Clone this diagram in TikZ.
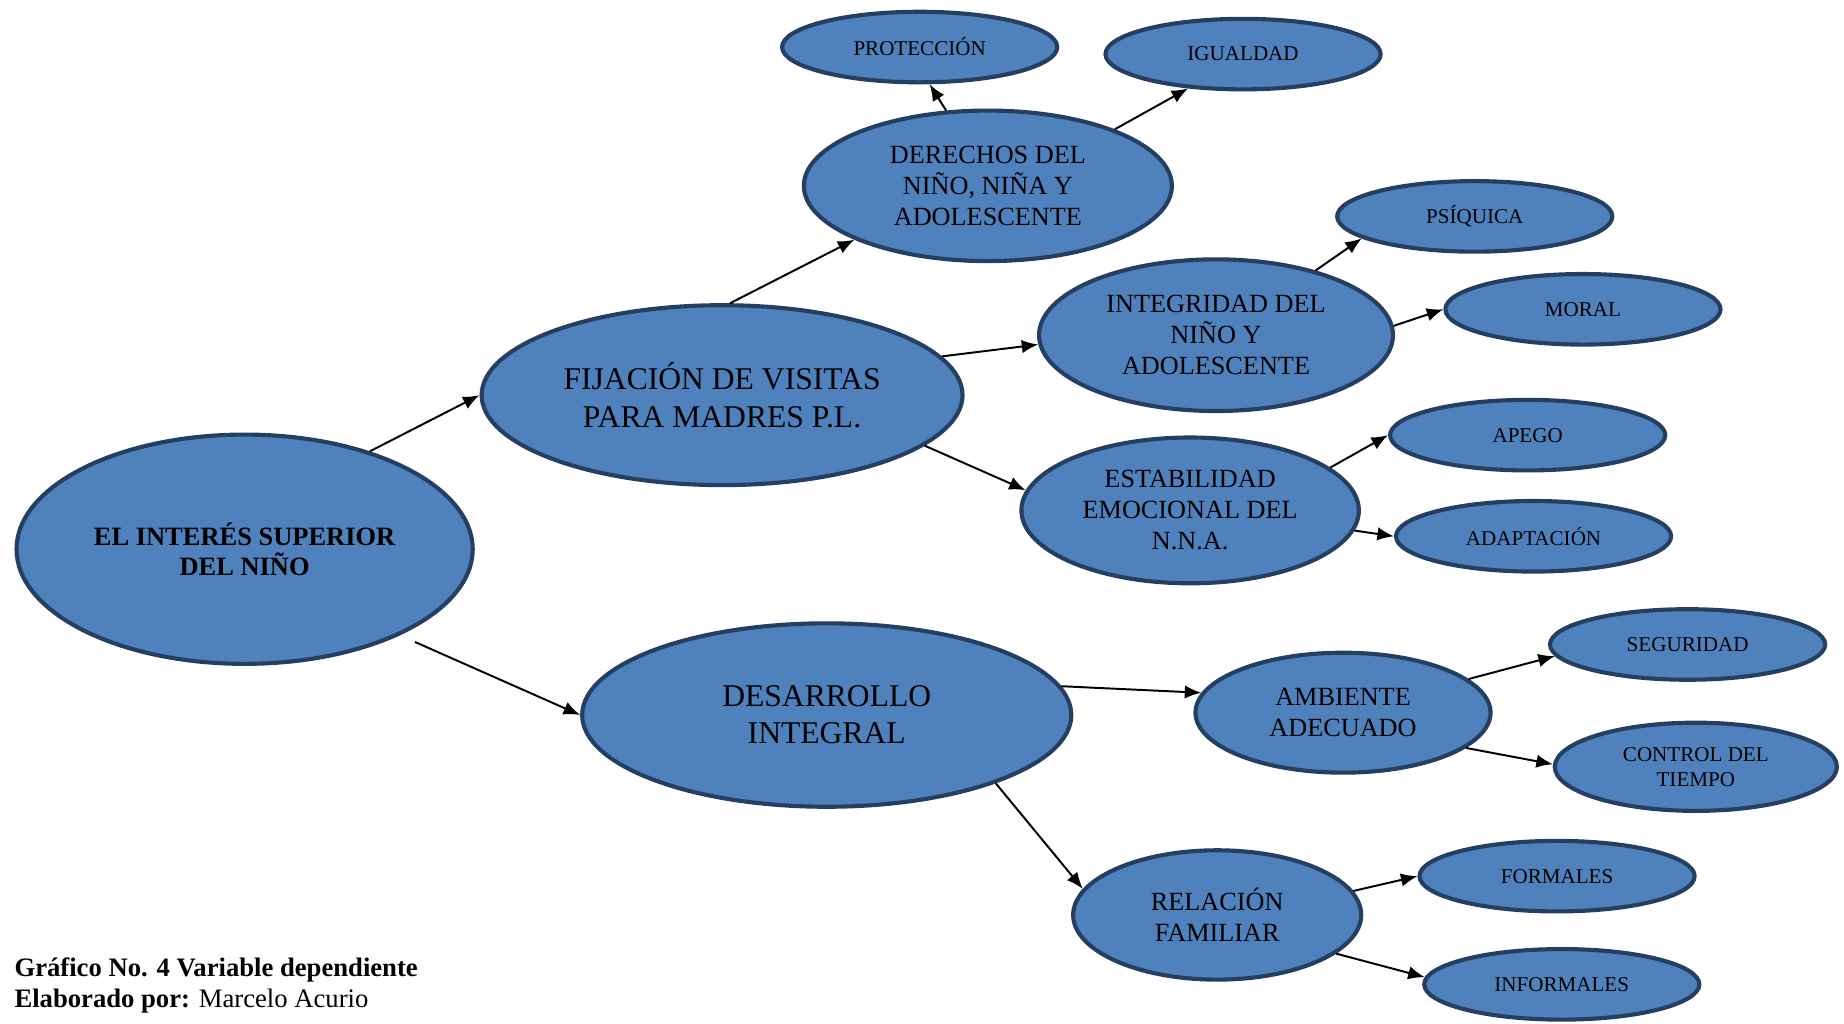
\documentclass[tikz,border=0pt]{standalone}
\usepackage{fontspec}
\setmainfont{Liberation Serif}
\usepackage{tikz}
\usetikzlibrary{arrows.meta,shapes.geometric}
\definecolor{azul}{RGB}{79,129,189}
\definecolor{borde}{RGB}{37,63,99}
\tikzset{
    %Define standard arrow tip
    >={Latex[length=8pt,width=6.5pt]},
    %Define style for ellipses
    elipse/.style={
           ellipse, draw=borde, fill=azul, line width=2pt,
           inner sep=0pt, align=center},
    hoja/.style={
           elipse, minimum width=4.68cm, minimum height=1.2cm,
           font=\fontsize{10.2}{12}\selectfont},
    rama/.style={
           elipse, font=\fontsize{12.7}{15}\selectfont},
    tronco/.style={
           elipse, font=\fontsize{15.3}{18}\selectfont},
    % Define arrow style
    pil/.style={
           ->,
           line width=0.95pt}
}

\begin{document}
\begin{tikzpicture}[x=0.02cm, y=-0.02cm]
	\useasboundingbox (0,0) rectangle (1568,870);

	% Main ellipses
	\node[elipse, minimum width=7.76cm, minimum height=3.9cm,
	      font=\fontsize{12.8}{14.7}\selectfont\bfseries] (interes) at (208,467) {EL INTERÉS SUPERIOR\\DEL NIÑO};
	\node[tronco, minimum width=8.18cm, minimum height=3.06cm] (fijacion) at (614,336) {FIJACIÓN DE VISITAS\\PARA MADRES P.L.};
	\node[tronco, minimum width=8.32cm, minimum height=3.12cm] (desarrollo) at (703,608) {DESARROLLO\\INTEGRAL};

	% Branches
	\node[rama, minimum width=6.26cm, minimum height=2.56cm] (derechos) at (840,158) {DERECHOS DEL\\NIÑO, NIÑA Y\\ADOLESCENTE};
	\node[rama, minimum width=6.02cm, minimum height=2.58cm] (integridad) at (1034,285) {INTEGRIDAD DEL\\NIÑO Y\\ADOLESCENTE};
	\node[rama, minimum width=5.74cm, minimum height=2.48cm] (estabilidad) at (1012,434) {ESTABILIDAD\\EMOCIONAL DEL\\N.N.A.};
	\node[rama, minimum width=5.02cm, minimum height=2.04cm] (ambiente) at (1142,606) {AMBIENTE\\ADECUADO};
	\node[rama, minimum width=4.9cm, minimum height=2.2cm] (relacion) at (1035,778) {RELACIÓN\\FAMILIAR};

	% Leaves
	\node[hoja] (proteccion) at (782,40) {PROTECCIÓN};
	\node[hoja] (igualdad) at (1057,46) {IGUALDAD};
	\node[hoja] (psiquica) at (1254,184) {PSÍQUICA};
	\node[hoja] (moral) at (1346,263) {MORAL};
	\node[hoja] (apego) at (1299,370) {APEGO};
	\node[hoja] (adaptacion) at (1304,456) {ADAPTACIÓN};
	\node[hoja] (seguridad) at (1435,548) {SEGURIDAD};
	\node[hoja, minimum width=4.8cm, minimum height=1.5cm] (control) at (1442,652) {CONTROL DEL\\TIEMPO};
	\node[hoja] (formales) at (1324,745) {FORMALES};
	\node[hoja] (informales) at (1328,837) {INFORMALES};

	% Caption
	\node[anchor=base west, inner sep=0pt, font=\fontsize{12.9}{15}\selectfont] (grafico) at (12,830) {\textbf{Gráfico No. 4 Variable dependiente}};
	\node[anchor=base west, inner sep=0pt, font=\fontsize{12.9}{15}\selectfont] (autor) at (12,857) {\textbf{Elaborado por:} Marcelo Acurio};

	% Arrows
	\path[pil] (interes.38) 	edge (fijacion.180)
	           (interes.-29) 	edge[shorten <=8pt] (desarrollo.180)
	           (fijacion.85) 	edge (derechos.-158)
	           (fijacion.10) 	edge (integridad.-177)
	           (fijacion.-14) 	edge (estabilidad.173)
	           (derechos.119) 	edge (proteccion.-75)
	           (derechos.24) 	edge (igualdad.-148)
	           (integridad.33) 	edge (psiquica.-169)
	           (integridad.3) 	edge (moral.180)
	           (estabilidad.17) 	edge (apego.180)
	           (estabilidad.-7) 	edge (adaptacion.180)
	           (desarrollo.7) 	edge (ambiente.172)
	           (desarrollo.-22) 	edge (relacion.169)
	           (ambiente.15) 	edge (seguridad.-175)
	           (ambiente.-16) 	edge (control.179)
	           (relacion.10) 	edge (formales.180)
	           (relacion.-18) 	edge (informales.177);
\end{tikzpicture}
\end{document}
